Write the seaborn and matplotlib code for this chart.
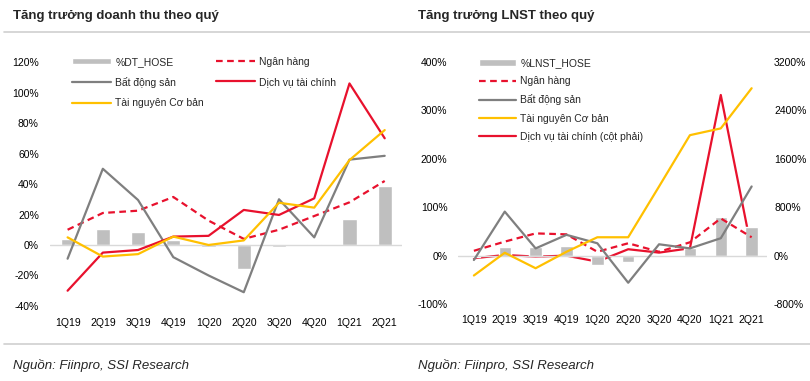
import numpy as np
import pandas as pd
import matplotlib
matplotlib.use("Agg")
import matplotlib.pyplot as plt
import seaborn as sns
from matplotlib.lines import Line2D
from matplotlib.ticker import FuncFormatter

quarters = ['1Q19', '2Q19', '3Q19', '4Q19', '1Q20', '2Q20', '3Q20', '4Q20', '1Q21', '2Q21']

# doanh thu (%)
dt_hose = [4, 10.5, 8.7, 3, -1.5, -16, -1, 0.5, 17, 39]
dt_ngan_hang = [10, 21, 22.5, 31.5, 16, 4, 10, 19, 28, 42]
dt_bds = [-9, 50, 29.5, -8, -20, -31, 30, 5, 56, 58.5]
dt_dvtc = [-30, -5, -3.3, 5.5, 6, 23, 19.7, 30.6, 106, 70]
dt_tn = [5, -7.6, -6, 5.5, 0, 3, 27.7, 24.5, 55.7, 75.4]

# LNST (%)
ln_hose = [-3, 17, 18.6, 20, -19, -12.4, -3, 15, 79, 60]
ln_ngan_hang = [10, 29, 46, 44, 8, 25.6, 8, 27.6, 77, 38]
ln_bds = [-9, 91, 15, 43, 25.6, -56, 23.5, 15, 36, 143]
ln_tn = [-41, 6, -26, 8, 38, 38, 143, 249, 263, 346]
ln_dvtc = [-43, 11, -16, 0, -99, 106, 50, 122, 2656, 94]  # cot phai

sns.set_theme(style='white')
plt.rcParams['font.family'] = ['Liberation Sans', 'DejaVu Sans']

RED = '#E8112D'
GREY = '#7F7F7F'
YEL = '#FFC000'
BAR = '#BFBFBF'
FS = 7.5

fig = plt.figure(figsize=(8.1, 3.81), dpi=100)
ax1 = fig.add_axes([0.0617, 0.197, 0.435, 0.640])
ax2 = fig.add_axes([0.566, 0.202, 0.381, 0.635])

pct = FuncFormatter(lambda v, p: f'{v:.0f}%')

# ---- bieu do doanh thu
sns.barplot(x=quarters, y=dt_hose, color=BAR, width=0.4, ax=ax1, saturation=1, label='%DT_HOSE')
ax1.axhline(0, color='#D9D9D9', lw=1, zorder=1)
sns.lineplot(x=quarters, y=dt_ngan_hang, color=RED, ls=(0, (3, 2)), lw=1.6, ax=ax1, sort=False, label='Ngân hàng')
sns.lineplot(x=quarters, y=dt_bds, color=GREY, lw=1.6, ax=ax1, sort=False, label='Bất động sản')
sns.lineplot(x=quarters, y=dt_dvtc, color=RED, lw=1.6, ax=ax1, sort=False, label='Dịch vụ tài chính')
sns.lineplot(x=quarters, y=dt_tn, color=YEL, lw=1.6, ax=ax1, sort=False, label='Tài nguyên Cơ bản')
ax1.set_ylim(-40, 120)
ax1.set_yticks(np.arange(-40, 121, 20))
ax1.set_xlim(-0.5, 9.5)
ax1.yaxis.set_major_formatter(pct)
h, l = ax1.get_legend_handles_labels()
d = dict(zip(l, h))
order = ['%DT_HOSE', 'Bất động sản', 'Tài nguyên Cơ bản', 'Ngân hàng', 'Dịch vụ tài chính']
ax1.legend([d[k] for k in order], order, ncol=2, frameon=False, loc='upper left',
           bbox_to_anchor=(0.035, 1.06), fontsize=FS, handlelength=3.8, handleheight=0.6,
           columnspacing=1.1, labelspacing=0.97, handletextpad=0.4)

# ---- bieu do LNST
sns.barplot(x=quarters, y=ln_hose, color=BAR, width=0.4, ax=ax2, saturation=1, label='%LNST_HOSE')
ax2.axhline(0, color='#D9D9D9', lw=1, zorder=1)
sns.lineplot(x=quarters, y=ln_ngan_hang, color=RED, ls=(0, (3, 2)), lw=1.6, ax=ax2, sort=False, label='Ngân hàng')
sns.lineplot(x=quarters, y=ln_bds, color=GREY, lw=1.6, ax=ax2, sort=False, label='Bất động sản')
sns.lineplot(x=quarters, y=ln_tn, color=YEL, lw=1.6, ax=ax2, sort=False, label='Tài nguyên Cơ bản')
ax2.set_ylim(-100, 400)
ax2.set_yticks(np.arange(-100, 401, 100))
ax2.set_xlim(-0.5, 9.5)
ax2.yaxis.set_major_formatter(pct)
ax3 = ax2.twinx()
sns.lineplot(x=quarters, y=ln_dvtc, color=RED, lw=1.6, ax=ax3, sort=False, label='Dịch vụ tài chính (cột phải)')
ax3.set_ylim(-800, 3200)
ax3.set_yticks(np.arange(-800, 3201, 800))
ax3.yaxis.set_major_formatter(pct)
ax3.set_xlim(-0.5, 9.5)
h2, l2 = ax2.get_legend_handles_labels()
h3, l3 = ax3.get_legend_handles_labels()
ax3.get_legend().remove()
d2 = dict(zip(l2 + l3, h2 + h3))
order2 = ['%LNST_HOSE', 'Ngân hàng', 'Bất động sản', 'Tài nguyên Cơ bản', 'Dịch vụ tài chính (cột phải)']
ax2.legend([d2[k] for k in order2], order2, frameon=False, loc='upper left', bbox_to_anchor=(0.035, 1.055),
           fontsize=FS, handlelength=3.6, handleheight=0.6, labelspacing=0.78, handletextpad=0.4)
ax2.set_zorder(ax3.get_zorder() + 1)
ax2.patch.set_visible(False)

for a in (ax1, ax2, ax3):
    sns.despine(ax=a, left=True, bottom=True, right=True, top=True)
    a.tick_params(length=0, labelsize=FS, colors='#000000', pad=8)
    a.set_ylabel('')
    a.grid(False)
ax3.tick_params(pad=5)
ax1.tick_params(axis='x', pad=9)

fig.text(0.016, 0.957, 'Tăng trưởng doanh thu theo quý', fontsize=9.5, fontweight='bold', va='center')
fig.text(0.516, 0.957, 'Tăng trưởng LNST theo quý', fontsize=9.5, fontweight='bold', va='center')
fig.text(0.016, 0.040, 'Nguồn: Fiinpro, SSI Research', fontsize=9.5, style='italic', va='center')
fig.text(0.516, 0.040, 'Nguồn: Fiinpro, SSI Research', fontsize=9.5, style='italic', va='center')
fig.add_artist(Line2D([0.005, 1], [0.916, 0.916], color='#D0D0D0', lw=1.2))
fig.add_artist(Line2D([0.005, 1], [0.097, 0.097], color='#D0D0D0', lw=1.2))

fig.savefig('out.png', dpi=100)
